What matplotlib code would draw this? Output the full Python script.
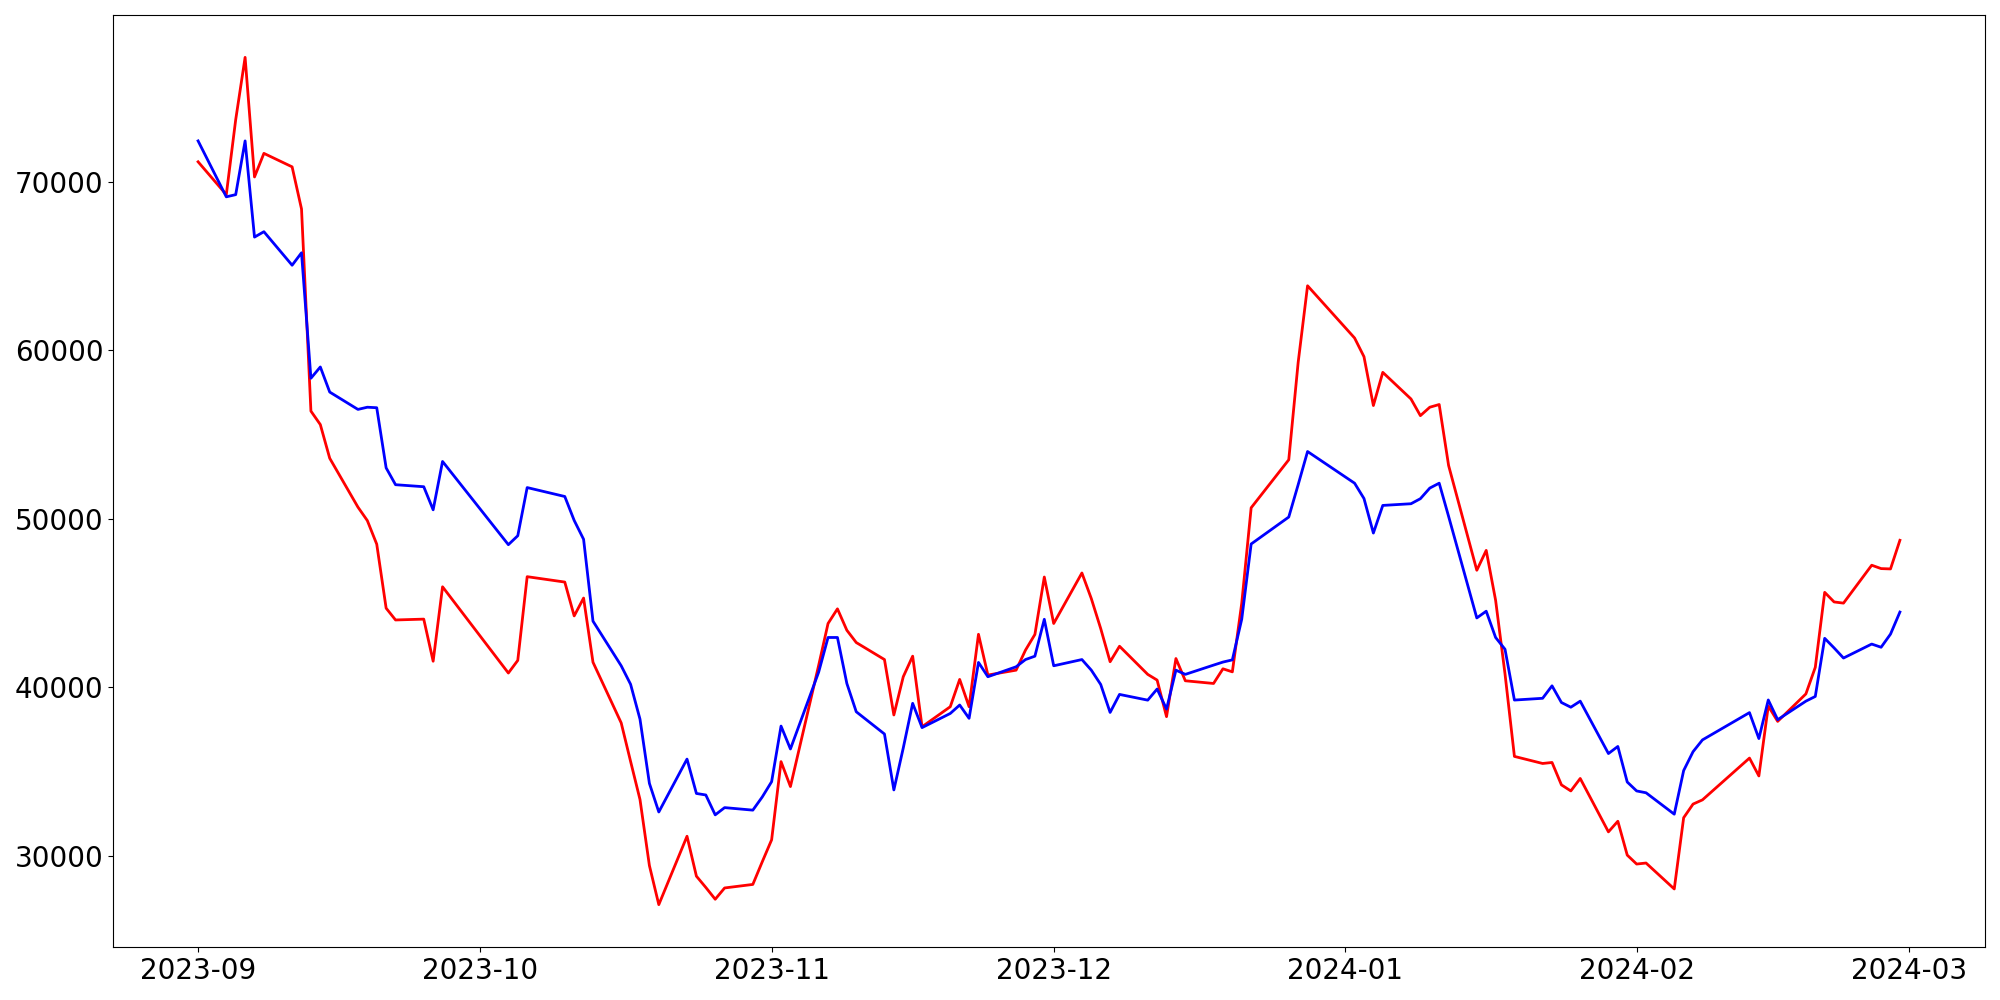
import pandas as pd
import matplotlib
matplotlib.use('Agg')
import matplotlib.pyplot as plt
import matplotlib.dates as mdates

# 거래일 (2023-09-01 ~ 2024-02-29, 휴장일 제외)
holidays = ['2023-09-28', '2023-09-29', '2023-10-02', '2023-10-03', '2023-10-09',
            '2023-12-25', '2023-12-29', '2024-01-01', '2024-02-09', '2024-02-12']
dates = pd.bdate_range('2023-09-01', '2024-02-29')
dates = dates[~dates.isin(pd.to_datetime(holidays))]

# 빨간 선 값
red_values = [
    71200, 69250, 73700, 77400, 70300, 71700, 70900, 68400, 56400, 55600,
    53600, 50700, 49900, 48500, 44700, 44000, 44050, 41550, 45970,
    40850, 41600, 46570, 46250, 44240, 45300, 41490, 37890, 35600, 33340,
    29420, 27100, 31160, 28790, 28120, 27420, 28090, 28300, 29640,
    30950, 35590, 34110, 41300, 43790, 44660, 43390, 42660, 41650, 38360,
    40630, 41850, 37660, 38850, 40470, 38850, 43150, 40730, 41020, 42210,
    43140, 46550,
    43790, 46790, 45270, 43490, 41520, 42440, 40770, 40430, 38260, 41710,
    40390, 40230, 41100, 40920, 45000, 50660, 53510, 59290, 63840,
    60740, 59630, 56730, 58700, 57120, 56130, 56630, 56790, 53170, 46950,
    48130, 45170, 40800, 35900, 35480, 35540, 34210, 33850, 34590, 31420,
    32050, 30040,
    29510, 29570, 28030, 32260, 33070, 33320, 35800, 34740, 38890, 37980,
    39610, 41190, 45640, 45070, 45000, 47250, 47050, 47030, 48730,
]

# 파란 선 값
blue_values = [
    72440, 69120, 69250, 72440, 66730, 67050, 65060, 65800, 58350, 59020,
    57530, 56500, 56630, 56600, 53030, 52030, 51910, 50540, 53410,
    48470, 49000, 51860, 51330, 49910, 48790, 43930, 41280, 40180, 38110,
    34300, 32600, 35740, 33700, 33610, 32430, 32860, 32710, 33490,
    34400, 37700, 36340, 40900, 42960, 42960, 40230, 38550, 37230, 33910,
    36400, 39050, 37610, 38450, 38950, 38160, 41480, 40630, 41220, 41650,
    41850, 44040,
    41280, 41650, 41020, 40170, 38510, 39580, 39240, 39900, 38710, 41020,
    40770, 41320, 41500, 41630, 44050, 48510, 50110, 52030, 54000,
    52120, 51210, 49160, 50800, 50900, 51200, 51830, 52120, 50150, 44120,
    44520, 42960, 42260, 39245, 39350, 40090, 39100, 38820, 39180, 36070,
    36490, 34380,
    33850, 33740, 32470, 35060, 36180, 36880, 38500, 36960, 39250, 38080,
    39180, 39460, 42910, 42340, 41740, 42570, 42380, 43160, 44470,
]

fig, ax = plt.subplots(figsize=(20, 10), dpi=100)
fig.subplots_adjust(left=0.0565, right=0.9925, bottom=0.053, top=0.985)

ax.plot(dates, red_values, color='red', linewidth=2)
ax.plot(dates, blue_values, color='blue', linewidth=2)

# x축: 월 단위 눈금
ax.xaxis.set_major_locator(mdates.MonthLocator())
ax.xaxis.set_major_formatter(mdates.DateFormatter('%Y-%m'))
ax.tick_params(axis='both', labelsize=20)

plt.savefig('out.png')
